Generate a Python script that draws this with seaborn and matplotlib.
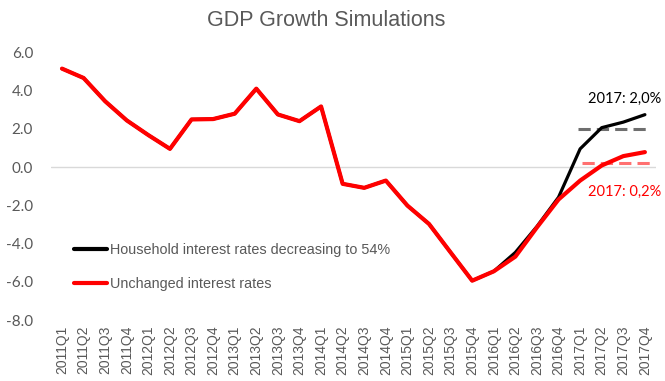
import matplotlib
matplotlib.use("Agg")
import matplotlib.pyplot as plt
import pandas as pd
import seaborn as sns

# Quarterly GDP growth (%), two interest-rate scenarios
quarters = [f"{y}Q{q}" for y in range(2011, 2018) for q in range(1, 5)]
household_rates_down = [
    5.16, 4.67, 3.45, 2.45, 1.68, 0.96, 2.50, 2.52, 2.80, 4.11, 2.76, 2.41, 3.18, -0.87,
    -1.08, -0.70, -2.01, -2.97, -4.46, -5.94, -5.45, -4.46, -3.10, -1.57, 0.96, 2.07, 2.36, 2.75,
]
unchanged_rates = [
    5.16, 4.67, 3.45, 2.45, 1.68, 0.96, 2.50, 2.52, 2.80, 4.11, 2.76, 2.41, 3.18, -0.87,
    -1.08, -0.70, -2.01, -2.97, -4.46, -5.94, -5.45, -4.68, -3.15, -1.69, -0.70, 0.09, 0.58, 0.79,
]
series_names = ["Household interest rates decreasing to 54%", "Unchanged interest rates"]
annual_2017 = [2.0, 0.2]
yticks = [6.0, 4.0, 2.0, 0.0, -2.0, -4.0, -6.0, -8.0]

df = pd.DataFrame({
    "quarter": quarters * 2,
    "pos": list(range(len(quarters))) * 2,
    "growth": household_rates_down + unchanged_rates,
    "scenario": [series_names[0]] * len(quarters) + [series_names[1]] * len(quarters),
})

sns.set_theme(style="white")
plt.rcParams["font.family"] = ["Liberation Sans", "DejaVu Sans"]

grey = "#595959"
fig = plt.figure(figsize=(6.65, 3.81), dpi=100)
ax = fig.add_axes([0.077, 0.160, 0.909, 0.702])

ax.axhline(0, color="#D9D9D9", lw=1.0, zorder=1)

sns.lineplot(data=df[df.scenario == series_names[0]], x="pos", y="growth",
             color="black", lw=2.3, ax=ax, legend=False, zorder=3)
sns.lineplot(data=df[df.scenario == series_names[1]], x="pos", y="growth",
             color="#FF0000", lw=3.0, ax=ax, legend=False, zorder=4)

# 2017 annual averages as dashed reference segments
n = len(quarters)
ax.hlines(annual_2017[0], n - 4.1, n - 0.7, colors="#6E6E6E", lw=2.2,
          linestyles=(0, (4, 2)), zorder=2)
ax.hlines(annual_2017[1], n - 3.9, n - 0.65, colors="#FF7070", lw=2.2,
          linestyles=(0, (4, 2)), zorder=2)

ax.text(n - 0.25, 3.6, f"2017: {annual_2017[0]:.1f}%".replace(".", ","),
        ha="right", va="center", fontsize=10.5, color="black",
        family=["Lato", "DejaVu Sans"], clip_on=False)
ax.text(n - 0.25, -1.3, f"2017: {annual_2017[1]:.1f}%".replace(".", ","),
        ha="right", va="center", fontsize=10.5, color="#FF0000",
        family=["Lato", "DejaVu Sans"], clip_on=False)

ax.set_xlim(-0.5, n - 0.5)
ax.set_ylim(-8, 6)
ax.set_xticks(range(n))
ax.set_xticklabels(quarters, rotation=90, fontsize=10, color=grey)
ax.set_yticks(yticks)
ax.set_yticklabels([f"{v:.1f}" for v in yticks], fontsize=11, color=grey,
                   family=["Lato", "DejaVu Sans"])
ax.tick_params(axis="x", length=0, pad=4)
ax.tick_params(axis="y", length=0, pad=13)
ax.set_xlabel("")
ax.set_ylabel("")
for s in ax.spines.values():
    s.set_visible(False)

handles = [plt.Line2D([], [], color="black", lw=3.0),
           plt.Line2D([], [], color="#FF0000", lw=3.0)]
leg = ax.legend(handles, series_names, loc="upper left", bbox_to_anchor=(0.028, 0.308),
                frameon=False, fontsize=10.4, handlelength=2.3, handletextpad=0.2,
                labelspacing=1.35, borderaxespad=0)
for t in leg.get_texts():
    t.set_color(grey)

fig.suptitle("GDP Growth Simulations", x=0.49, y=0.975, fontsize=15.5, color=grey)

fig.savefig("out.png", dpi=100)
